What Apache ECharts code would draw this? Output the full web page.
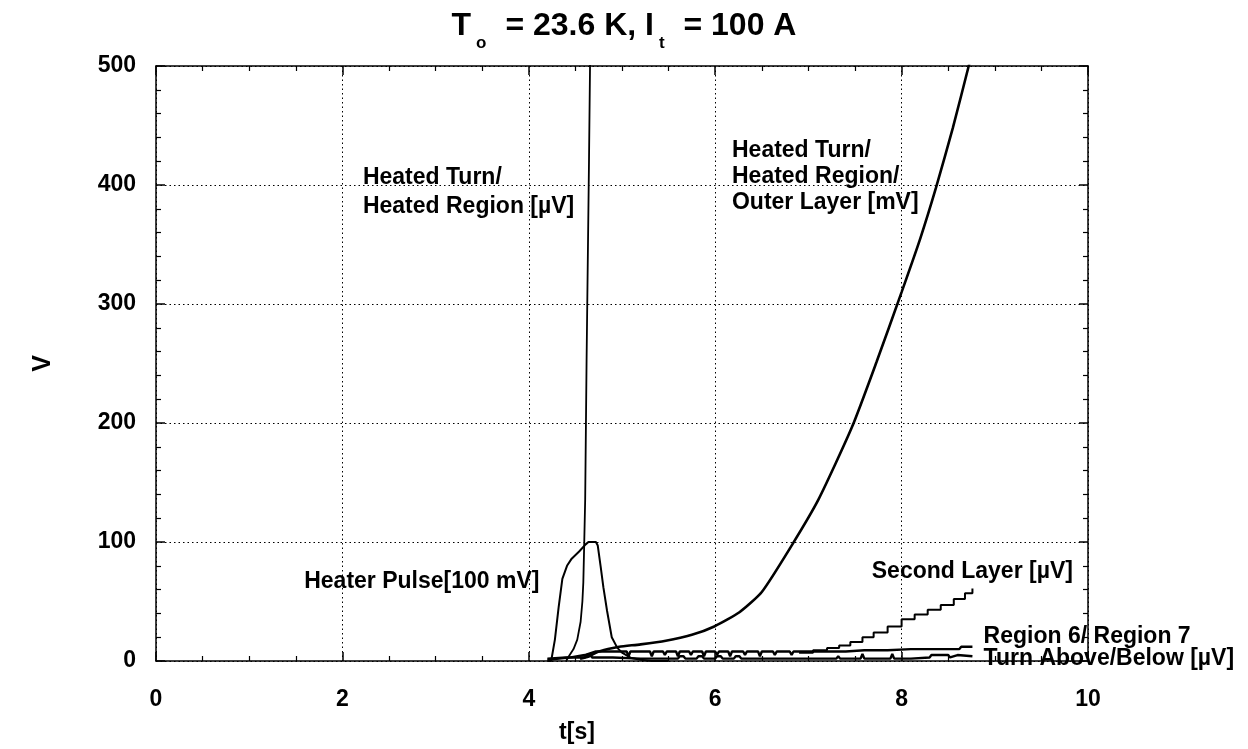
<!DOCTYPE html>
<html>
<head>
<meta charset="utf-8">
<script src="https://cdn.jsdelivr.net/npm/echarts@6/dist/echarts.min.js"></script>
<style>html,body{margin:0;padding:0;background:#fff}#c{width:1248px;height:749px}</style>
</head>
<body>
<div id="c"></div>
<script>
// ---- data ----
const xTicks = [0, 2, 4, 6, 8, 10];
const yTicks = [0, 100, 200, 300, 400, 500];

const heatedTurnUV = [[4.40,0],[4.43,4],[4.48,10],[4.52,18],[4.556,33],[4.575,50],[4.585,66],[4.595,100],[4.605,136],[4.62,253],[4.646,421],[4.657,500],[4.66,520]];

const heaterPulse = [[4.20,0],[4.24,0],[4.28,18],[4.32,45],[4.36,69],[4.41,80],[4.46,86],[4.54,92],[4.61,98],[4.64,100],[4.72,100],[4.74,97],[4.77,80],[4.80,62],[4.84,42],[4.89,20],[4.95,11],[5.00,7],[5.10,2.5],[5.20,1],[5.32,0],[5.50,0]];

const outerLayerMV = [[4.55,2],[4.65,4],[4.72,7],[4.85,10],[4.97,12],[5.20,14],[5.47,17],[5.75,22],[5.99,29],[6.26,41],[6.50,58],[6.82,97],[7.11,136],[7.47,197],[7.73,251],[8.00,310],[8.20,355],[8.37,398],[8.55,448],[8.72,500],[8.76,512]];

const secondLayerUV = [[6.90,7],[7.05,9],[7.20,11],[7.33,13],[7.45,16],[7.58,20],[7.70,24],[7.85,29],[8.00,35],[8.14,39],[8.28,43],[8.42,47],[8.56,52],[8.68,57],[8.76,61]];

const region67 = [[4.20,1],[4.45,3],[4.60,5],[4.72,8],[5.05,8],[5.07,4],[5.09,8],[5.30,8],[5.32,4],[5.34,8],[5.44,8],[5.46,5],[5.48,8],[5.58,8],[5.60,4],[5.62,8],[5.72,8],[5.74,5],[5.76,8],[5.86,8],[5.88,4],[5.90,8],[6.00,8],[6.02,5],[6.04,8],[6.14,8],[6.16,4],[6.18,8],[6.30,8],[6.32,5],[6.34,8],[6.46,8],[6.48,4],[6.50,8],[6.62,8],[6.64,5],[6.66,8],[6.80,8],[6.82,5],[6.84,8],[7.00,8],[7.20,8],[7.40,8],[7.60,9],[7.85,9],[8.10,10],[8.40,10],[8.62,10],[8.64,12],[8.76,12]];

const turnAboveBelow = [[4.20,2],[4.40,3],[4.60,3],[4.62,5],[4.66,5],[4.68,3],[4.90,3],[5.20,2],[5.60,2],[5.62,4],[5.66,4],[5.68,2],[5.80,2],[5.82,4],[5.86,4],[5.88,2],[6.00,2],[6.02,4],[6.06,4],[6.08,2],[6.20,2],[6.22,4],[6.26,4],[6.28,2],[6.50,2],[7.00,2],[7.30,2],[7.32,4],[7.34,2],[7.56,2],[7.58,6],[7.60,2],[7.88,2],[7.90,6],[7.92,2],[8.10,2],[8.30,3],[8.32,5],[8.50,5],[8.52,3],[8.60,5],[8.76,4]];

const noteText = ['Heated Turn/\nHeated Region [\u00b5V]', 'Heated Turn/\nHeated Region/\nOuter Layer [mV]', 'Heater Pulse[100 mV]', 'Second Layer [\u00b5V]', 'Region 6/ Region 7', 'Turn Above/Below [\u00b5V]'];
const noteT = [2.22, 6.18, 1.59, 7.68, 8.88, 8.88];
const noteV = [418, 440, 78, 86, 31, 12.6];
const noteLH = [29, 26, 26, 26, 26, 26];

// ---- chart ----
const FONT = '"Liberation Sans", Arial, Helvetica, sans-serif';
const chart = echarts.init(document.getElementById('c'));

function xAx(pos, labels) {
  return {
    type: 'value', position: pos, min: xTicks[0], max: xTicks[xTicks.length-1], interval: xTicks[1]-xTicks[0],
    axisLine: { show: true, onZero: false, lineStyle: { color: '#000', width: 1.5 } },
    axisTick: { show: true, inside: true, length: 9, lineStyle: { color: '#000', width: 1.5 } },
    minorTick: { show: true, splitNumber: 4, length: 5, lineStyle: { color: '#000', width: 1.2 } },
    splitLine: { show: labels, lineStyle: { color: '#000', width: 1, type: [1.5, 3] } },
    axisLabel: { show: labels, color: '#000', fontSize: 23, fontWeight: 'bold', fontFamily: FONT, margin: 27 },
    name: labels ? 't[s]' : '', nameLocation: 'middle', nameGap: 60,
    nameTextStyle: { color: '#000', fontSize: 23, fontWeight: 'bold', fontFamily: FONT, padding: [0, 90, 0, 0] }
  };
}
function yAx(pos, labels) {
  return {
    type: 'value', position: pos, min: yTicks[0], max: yTicks[yTicks.length-1], interval: yTicks[1]-yTicks[0],
    axisLine: { show: true, onZero: false, lineStyle: { color: '#000', width: 1.5 } },
    axisTick: { show: true, inside: true, length: 9, lineStyle: { color: '#000', width: 1.5 } },
    minorTick: { show: true, splitNumber: 5, length: 5, lineStyle: { color: '#000', width: 1.2 } },
    splitLine: { show: labels, lineStyle: { color: '#000', width: 1, type: [1.5, 3] } },
    axisLabel: { show: labels, color: '#000', fontSize: 23, fontWeight: 'bold', fontFamily: FONT, margin: 20 },
    name: labels ? 'V' : '', nameLocation: 'middle', nameGap: 100,
    nameTextStyle: { color: '#000', fontSize: 25, fontWeight: 'bold', fontFamily: FONT }
  };
}
function line(data, w, extra) {
  return Object.assign({
    type: 'line', data: data, showSymbol: false, symbol: 'none', animation: false,
    lineStyle: { color: '#000', width: w }, xAxisIndex: 0, yAxisIndex: 0, z: 3
  }, extra || {});
}

chart.setOption({
  animation: false,
  backgroundColor: '#fff',
  title: {
    text: '{n|T}{s|o}{n| = 23.6 K, I}{s|t}{n| = 100 A}',
    left: 'center', top: 5,
    textStyle: {
      fontFamily: FONT,
      rich: {
        n: { fontSize: 32, fontWeight: 'bold', fontFamily: FONT, color: '#000', lineHeight: 42, verticalAlign: 'top' },
        s: { fontSize: 17, fontWeight: 'bold', fontFamily: FONT, color: '#000', lineHeight: 17, verticalAlign: 'bottom', padding: [0, 10, 0, 5] }
      }
    }
  },
  grid: { left: 156, top: 66, right: 160, bottom: 87, containLabel: false },
  xAxis: [xAx('bottom', true), xAx('top', false)],
  yAxis: [yAx('left', true), yAx('right', false)],
  series: [
    line(heaterPulse, 2),
    line(heatedTurnUV, 1.8),
    line(outerLayerMV, 2.6, { smooth: 0.2 }),
    line(secondLayerUV, 2, { step: 'end' }),
    line(region67, 2.4),
    line(turnAboveBelow, 2.4)
  ]
});

// annotations placed through the chart's own coordinate conversion
const notes = noteT.map((t, i) => {
  const p = chart.convertToPixel({ xAxisIndex: 0, yAxisIndex: 0 }, [t, noteV[i]]);
  return {
    type: 'text', x: p[0], y: p[1], z: 10, silent: true,
    style: { text: noteText[i], fill: '#000', font: 'bold 23px ' + FONT, lineHeight: noteLH[i], textAlign: 'left', textVerticalAlign: 'top' }
  };
});
chart.setOption({ graphic: notes });
</script>
</body>
</html>
